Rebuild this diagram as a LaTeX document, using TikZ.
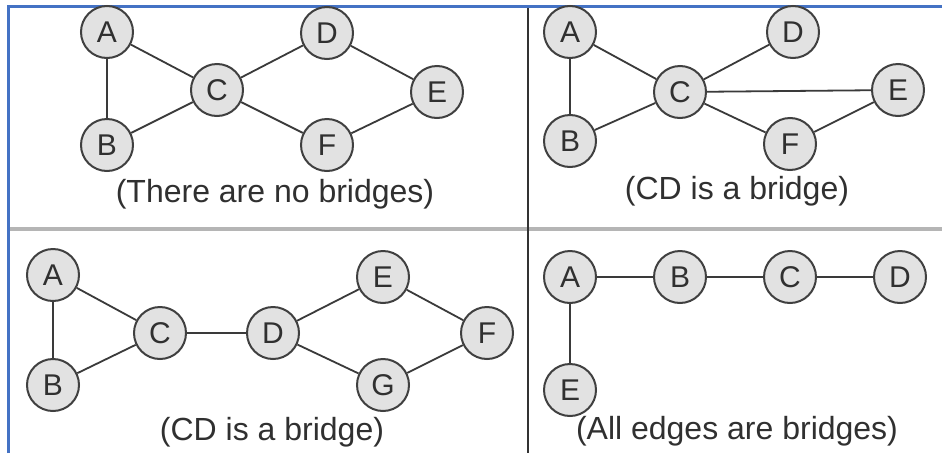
\documentclass[tikz,border=0pt]{standalone}
\usepackage{fontspec}
\setmainfont{Liberation Sans}
\definecolor{bluebd}{HTML}{4472C4}
\definecolor{nodefill}{HTML}{E2E2E2}
\definecolor{nodeline}{HTML}{404040}
\definecolor{edgecol}{HTML}{3A3A3A}
\definecolor{txtcol}{HTML}{303030}
\tikzset{
  vtx/.style={circle, draw=nodeline, line width=2pt, fill=nodefill, minimum size=52pt, inner sep=0pt, text=txtcol, font=\fontsize{30}{32}\selectfont},
  edg/.style={draw=edgecol, line width=1.8pt},
  captxt/.style={text=txtcol, font=\fontsize{32}{35}\selectfont, inner sep=0pt},
}
\begin{document}
\begin{tikzpicture}[x=1pt,y=-1pt]
\useasboundingbox (0,0) rectangle (942,453);
\fill[white] (0,0) rectangle (942,453);
% frame and dividers
\draw[line width=3.5pt, gray!95!black!55] (9,229) -- (942,229);
\draw[line width=2pt, black!80] (527.5,6) -- (527.5,453);
\draw[line width=2.5pt, bluebd] (8.5,453) -- (8.5,6.5) -- (942,6.5);

% Panel 1
\node[vtx] (a1) at (107,32) {A};
\node[vtx] (b1) at (107,145) {B};
\node[vtx] (c1) at (217,90) {C};
\node[vtx] (d1) at (327,33) {D};
\node[vtx] (e1) at (437,92) {E};
\node[vtx] (f1) at (327,145) {F};
\draw[edg] (a1)--(b1) (a1)--(c1) (b1)--(c1) (c1)--(d1) (c1)--(f1) (d1)--(e1) (f1)--(e1);
\node[captxt] (t1) at (275,194) {(There are no bridges)};

% Panel 2
\node[vtx] (a2) at (570,32) {A};
\node[vtx] (b2) at (570,141) {B};
\node[vtx] (c2) at (680,92) {C};
\node[vtx] (d2) at (793,32) {D};
\node[vtx] (e2) at (898,90) {E};
\node[vtx] (f2) at (790,144) {F};
\draw[edg] (a2)--(b2) (a2)--(c2) (b2)--(c2) (c2)--(d2) (c2)--(e2) (c2)--(f2) (f2)--(e2);
\node[captxt] (t2) at (737,191) {(CD is a bridge)};

% Panel 3
\node[vtx] (a3) at (53,275) {A};
\node[vtx] (b3) at (53,385) {B};
\node[vtx] (c3) at (160,333) {C};
\node[vtx] (d3) at (273,333) {D};
\node[vtx] (e3) at (383,277) {E};
\node[vtx] (g3) at (383,385) {G};
\node[vtx] (f3) at (487,333) {F};
\draw[edg] (a3)--(b3) (a3)--(c3) (b3)--(c3) (c3)--(d3) (d3)--(e3) (d3)--(g3) (e3)--(f3) (g3)--(f3);
\node[captxt] (t3) at (272,432) {(CD is a bridge)};

% Panel 4
\node[vtx] (a4) at (570,277) {A};
\node[vtx] (b4) at (680,277) {B};
\node[vtx] (c4) at (790,277) {C};
\node[vtx] (d4) at (900,277) {D};
\node[vtx] (e4) at (570,390) {E};
\draw[edg] (a4)--(b4) (b4)--(c4) (c4)--(d4) (a4)--(e4);
\node[captxt] (t4) at (737,431) {(All edges are bridges)};
\end{tikzpicture}
\end{document}
